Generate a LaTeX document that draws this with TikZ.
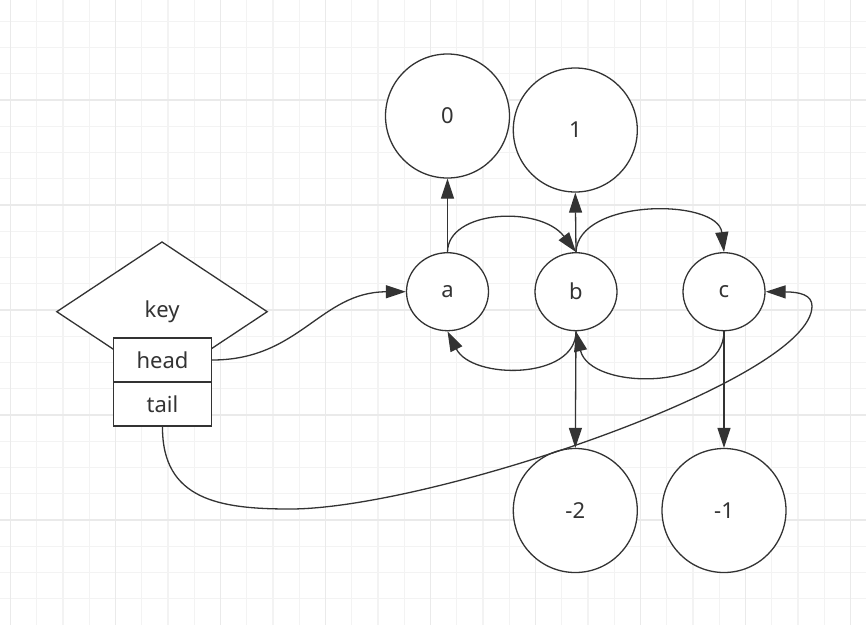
\documentclass[tikz,border=0pt]{standalone}
\usepackage{fontspec}
\setmainfont{Noto Sans}
\usetikzlibrary{arrows.meta,shapes.geometric}
\definecolor{ink}{HTML}{333333}
\definecolor{txt}{HTML}{333333}
\definecolor{gminor}{HTML}{F3F3F3}
\definecolor{gmajor}{HTML}{EAEAEA}
\begin{document}
\begin{tikzpicture}[x=1pt,y=-1pt,
  every node/.style={text=txt, font=\fontsize{22}{26}\selectfont},
  ln/.style={draw=ink, line width=1.3pt},
  arr/.style={ln, -{Triangle[length=20pt,width=13pt]}},
  small/.style={ellipse, ln, minimum width=82pt, minimum height=78pt, inner sep=0pt, fill=white},
  big/.style={circle, ln, minimum size=124pt, inner sep=0pt, fill=white},
  cell/.style={rectangle, ln, minimum width=98pt, minimum height=44pt, inner sep=0pt, fill=white},
  minorline/.style={draw=gminor, line width=1.3pt},
  majorline/.style={draw=gmajor, line width=1.3pt},
]
\useasboundingbox (0,0) rectangle (866,625);
\fill[white] (0,0) rectangle (866,625);
% grid
\foreach \gi in {0,...,32}{
  \pgfmathsetmacro\gx{10.5+26.25*\gi}
  \draw[minorline] (\gx,0) -- (\gx,625);
}
\foreach \gi in {1,...,23}{
  \pgfmathsetmacro\gy{-5+26.25*\gi}
  \draw[minorline] (0,\gy) -- (866,\gy);
}
\foreach \gi in {0,...,8}{
  \pgfmathsetmacro\gx{10.5+105*\gi}
  \draw[majorline] (\gx,0) -- (\gx,625);
}
\foreach \gi in {1,...,5}{
  \pgfmathsetmacro\gy{-5+105*\gi}
  \draw[majorline] (0,\gy) -- (866,\gy);
}
% key structure
\node[diamond, ln, fill=white, minimum width=211pt, minimum height=140pt, inner sep=0pt] (keyd) at (162,311.7) {key};
\node[cell] (head) at (162.5,360) {head};
\node[cell] (tail) at (162.5,404) {tail};
% list nodes
\node[small] (a) at (447.5,291.7) {a};
\node[small] (b) at (576,291.7) {b};
\node[small] (c) at (724,291.7) {c};
\node[big] (n0) at (447.5,116) {0};
\node[big] (n1) at (575.3,130) {1};
\node[big] (m2) at (575.3,510.5) {-2};
\node[big] (m1) at (724,510.5) {-1};
% connectors
\draw[arr] (a.north) -- (n0.south);
\draw[arr] (b.north) -- (n1.south);
\draw[arr] (b.south) -- (m2.north);
\draw[arr] (c.south) -- (m1.north);
\draw[arr] (a.north) .. controls (447.5,210) and (540,205) .. (b.north);
\draw[arr] (b.north) .. controls (578,198) and (718,198) .. (c.north);
\draw[arr] (b.south) .. controls (576,380) and (472,380) .. (a.south);
\draw[arr] (c.south) .. controls (724,391) and (590,391) .. (b.south);
\draw[arr] (head.east) .. controls (300,360) and (320,292) .. (a.west);
\draw[arr] (tail.south) .. controls (162,500) and (220,509) .. (290,509)
  .. controls (430,509) and (812,380) .. (812,306)
  .. controls (812,295) and (800,292) .. (c.east);
\end{tikzpicture}
\end{document}
